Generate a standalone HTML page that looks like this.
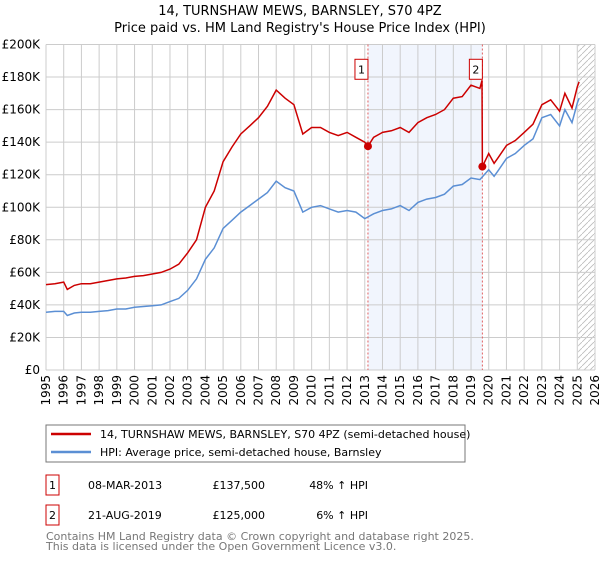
<!DOCTYPE html>
<html><head><meta charset="utf-8"><style>
body{margin:0;background:#fff;font-family:"Liberation Sans","DejaVu Sans",sans-serif;}
svg text{font-family:"DejaVu Sans","Liberation Sans",sans-serif;}
</style></head><body>
<svg id="c" width="600" height="560" viewBox="0 0 600 560" xmlns="http://www.w3.org/2000/svg">
<text x="300" y="15" text-anchor="middle" font-size="13">14, TURNSHAW MEWS, BARNSLEY, S70 4PZ</text>
<text x="300" y="32" text-anchor="middle" font-size="13">Price paid vs. HM Land Registry's House Price Index (HPI)</text>
<g id="grid"></g><g id="marks"></g><g id="axes"></g>
<g>
<rect x="46" y="425" width="419" height="37" fill="#fff" stroke="#777"/>
<line x1="51" y1="434" x2="91" y2="434" stroke="#cc0000" stroke-width="2.5"/>
<text x="100" y="438" font-size="11">14, TURNSHAW MEWS, BARNSLEY, S70 4PZ (semi-detached house)</text>
<line x1="51" y1="452" x2="91" y2="452" stroke="#5b8fd4" stroke-width="2.5"/>
<text x="100" y="456" font-size="11">HPI: Average price, semi-detached house, Barnsley</text>
</g>
<g font-size="11">
<rect x="46" y="475" width="13" height="20" fill="#fff" stroke="#cc0000"/><text x="52.5" y="489" text-anchor="middle">1</text>
<text x="88" y="489">08-MAR-2013</text><text x="265" y="489" text-anchor="end">£137,500</text><text x="368" y="489" text-anchor="end">48% ↑ HPI</text>
<rect x="46" y="505" width="13" height="20" fill="#fff" stroke="#cc0000"/><text x="52.5" y="519" text-anchor="middle">2</text>
<text x="88" y="519">21-AUG-2019</text><text x="265" y="519" text-anchor="end">£125,000</text><text x="368" y="519" text-anchor="end">6% ↑ HPI</text>
</g>
<text x="46" y="540" font-size="11" fill="#777">Contains HM Land Registry data © Crown copyright and database right 2025.</text>
<text x="46" y="550" font-size="11" fill="#777">This data is licensed under the Open Government Licence v3.0.</text>
</svg>
<script>
const yTicks=[0,20,40,60,80,100,120,140,160,180,200];
const yTickLabels=["£0","£20K","£40K","£60K","£80K","£100K","£120K","£140K","£160K","£180K","£200K"];
const years=[1995,1996,1997,1998,1999,2000,2001,2002,2003,2004,2005,2006,2007,2008,2009,2010,2011,2012,2013,2014,2015,2016,2017,2018,2019,2020,2021,2022,2023,2024,2025,2026];
const hpiT=[1995,1995.5,1996,1996.2,1996.6,1997,1997.5,1998,1998.5,1999,1999.5,2000,2000.5,2001,2001.5,2002,2002.5,2003,2003.5,2004,2004.5,2005,2005.5,2006,2006.5,2007,2007.5,2008,2008.5,2009,2009.5,2010,2010.5,2011,2011.5,2012,2012.5,2013,2013.5,2014,2014.5,2015,2015.5,2016,2016.5,2017,2017.5,2018,2018.5,2019,2019.5,2020,2020.3,2020.5,2021,2021.5,2022,2022.5,2023,2023.5,2024,2024.3,2024.7,2025,2025.1];
const hpiV=[35.5,36,36,33.5,35,35.5,35.5,36,36.5,37.5,37.5,38.5,39,39.5,40,42,44,49,56,68,75,87,92,97,101,105,109,116,112,110,97,100,101,99,97,98,97,93,96,98,99,101,98,103,105,106,108,113,114,118,117,123,119,122,130,133,138,142,155,157,150,160,152,164,167];
const ppT=[1995,1995.5,1996,1996.2,1996.6,1997,1997.5,1998,1998.5,1999,1999.5,2000,2000.5,2001,2001.5,2002,2002.5,2003,2003.5,2004,2004.5,2005,2005.5,2006,2006.5,2007,2007.5,2008,2008.5,2009,2009.5,2010,2010.5,2011,2011.5,2012,2012.5,2013,2013.18,2013.5,2014,2014.5,2015,2015.5,2016,2016.5,2017,2017.5,2018,2018.5,2019,2019.5,2019.62,2019.64,2020,2020.3,2020.5,2021,2021.5,2022,2022.5,2023,2023.5,2024,2024.3,2024.7,2025,2025.1];
const ppV=[52.5,53,54,49.5,52,53,53,54,55,56,56.5,57.5,58,59,60,62,65,72,80,100,110,128,137,145,150,155,162,172,167,163,145,149,149,146,144,146,143,140,137.5,143,146,147,149,146,152,155,157,160,167,168,175,173,178,125,133,127,130,138,141,146,151,163,166,159,170,161,174,177];
const saleT=[2013.18,2019.64];
const saleV=[137.5,125];
const saleLabels=["1","2"];
const X0=46,X1=595,Y0=370,Y1=44.5;
const x=t=>X0+(t-1995)/(2026-1995)*(X1-X0);
const y=v=>Y0-v/200*(Y0-Y1);
const NS="http://www.w3.org/2000/svg";
function mk(p,tag,a){const e=document.createElementNS(NS,tag);for(const k in a)e.setAttribute(k,a[k]);p.appendChild(e);return e;}
const grid=document.getElementById('grid'),marks=document.getElementById('marks'),axes=document.getElementById('axes');
let sh=mk(grid,'rect',{x:x(saleT[0]),y:Y1,width:x(saleT[1])-x(saleT[0]),height:Y0-Y1,fill:'#eef3fd',opacity:0.8});


let defs=mk(grid,'defs',{});let pat=mk(defs,'pattern',{id:'hatch',width:6,height:6,patternUnits:'userSpaceOnUse'});
mk(pat,'path',{d:'M0,6 L6,0',stroke:'#bbb','stroke-width':0.8});
let hx=x(2025.05);
let ht=mk(grid,'rect',{x:hx,y:Y1,width:X1-hx,height:Y0-Y1,fill:'url(#hatch)'});


years.forEach(yr=>{let l=mk(grid,'line',{x1:x(yr),x2:x(yr),y1:Y1,y2:Y0,stroke:'#ccc','stroke-width':1});


let t=mk(axes,'text',{x:0,y:0,'font-size':12,'text-anchor':'end',transform:`translate(${x(yr)+4},${Y0+5}) rotate(-90)`});t.textContent=yr;

});
yTicks.forEach((v,i)=>{let l=mk(grid,'line',{x1:X0,x2:X1,y1:y(v),y2:y(v),stroke:'#ccc','stroke-width':1});


let t=mk(axes,'text',{x:X0-6,y:y(v)+4,'font-size':12,'text-anchor':'end'});t.textContent=yTickLabels[i];

});
saleT.forEach((t,i)=>{let l=mk(marks,'line',{x1:x(t),x2:x(t),y1:Y1,y2:Y0,stroke:'#e06060','stroke-dasharray':'2,2','stroke-width':1});

});
function path(T,V,col,name){let d=T.map((t,i)=>(i?'L':'M')+x(t).toFixed(1)+','+y(V[i]).toFixed(1)).join('');
let p=mk(marks,'path',{d:d,fill:'none',stroke:col,'stroke-width':1.5});

}
path(hpiT,hpiV,'#5b8fd4','hpi-line');
path(ppT,ppV,'#cc0000','price-paid-line');
saleT.forEach((t,i)=>{let c=mk(marks,'circle',{cx:x(t),cy:y(saleV[i]),r:4,fill:'#cc0000'});


let r=mk(marks,'rect',{x:x(t)-13,y:y(186)-8,width:13,height:20,fill:'#fff',stroke:'#cc0000'});


let tx=mk(marks,'text',{x:x(t)-6.5,y:y(186)+6,'font-size':11,'text-anchor':'middle'});tx.textContent=saleLabels[i];

});
</script>
</body></html>
